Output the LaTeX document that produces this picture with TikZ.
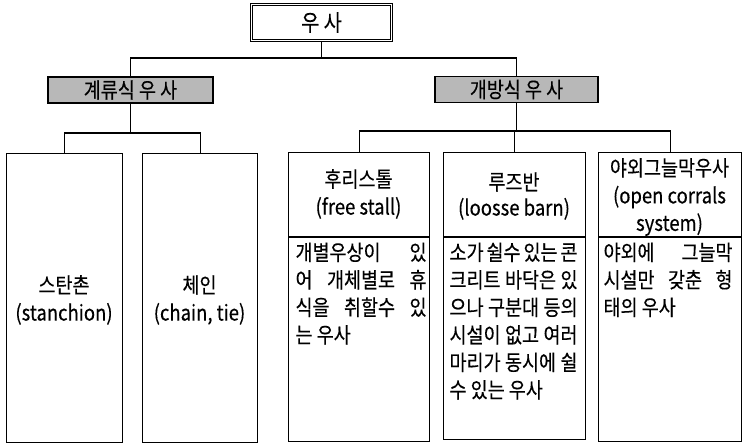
\documentclass[tikz,border=0pt]{standalone}
\usepackage{fontspec}
\setmainfont{Noto Sans CJK KR}[FakeStretch=0.86, FakeBold=0.3]
\begin{document}
\begin{tikzpicture}[x=1pt,y=-1pt,
  line width=1.1pt,
  box/.style={draw=black, rectangle, inner sep=0pt, anchor=north west},
  gbox/.style={draw=black, fill=black!28, rectangle, inner sep=0pt, font=\fontsize{21.5}{22}\selectfont},
  hdr/.style={align=center, inner sep=0pt, font=\fontsize{21.5}{27.5}\selectfont},
  body/.style={align=left, inner sep=0pt, anchor=north west, font=\fontsize{21.5}{27.5}\selectfont},
  conn/.style={draw=black, line width=1.1pt}
]
\useasboundingbox (0,0) rectangle (743,444);
% top
\node[draw=black, line width=1pt, minimum width=142pt, minimum height=38pt, inner sep=0pt, font=\fontsize{23}{24}\selectfont] (top) at (321.5,22.5) {우 사};
\draw[line width=0.8pt] ([shift={(2.8,2.8)}]top.north west) rectangle ([shift={(-2.8,-2.8)}]top.south east);
% level 2
\node[gbox, minimum width=165pt, minimum height=26pt] (g1) at (130.5,90) {계류식 우 사};
\node[gbox, minimum width=163pt, minimum height=26pt] (g2) at (516.5,89.5) {개방식 우 사};
% leaf boxes
\node[box, minimum width=116pt, minimum height=289pt] (b1) at (6,153) {};
\node[box, minimum width=115pt, minimum height=289pt] (b2) at (142,153) {};
\node[box, minimum width=141pt, minimum height=289pt] (b3) at (288,152) {};
\node[box, minimum width=142pt, minimum height=287pt] (b4) at (443,152) {};
\node[box, minimum width=143pt, minimum height=289pt] (b5) at (598,152) {};
% dividers
\coordinate (dv) at (0,237);
\draw (b3.west |- dv) -- (b3.east |- dv);
\draw (b4.west |- dv) -- (b4.east |- dv);
\draw (b5.west |- dv) -- (b5.east |- dv);
% connectors
\coordinate (bus1) at (0,58);
\coordinate (bus2) at (0,133);
\coordinate (bus3) at (0,131);
\draw[conn] (top.south) -- (top.south |- bus1);
\draw[conn] (g1.north) -- (g1.north |- bus1) -- (g2.north |- bus1) -- (g2.north);
\draw[conn] (g1.south) -- (g1.south |- bus2);
\draw[conn] (b1.north) -- (b1.north |- bus2) -- (b2.north |- bus2) -- (b2.north);
\draw[conn] (g2.south) -- (g2.south |- bus3);
\draw[conn] (b3.north) -- (b3.north |- bus3) -- (b5.north |- bus3) -- (b5.north);
\draw[conn] (b4.north |- bus3) -- (b4.north);
% left texts
\node[hdr] (t1) at (64,300) {스탄촌\\(stanchion)};
\node[hdr] (t2) at (199.5,300) {체인\\(chain, tie)};
% headers
\node[hdr] (h3) at (358.5,194) {후리스톨\\(free stall)};
\node[hdr, font=\fontsize{21.5}{25.5}\selectfont] (h4) at (514,196) {루즈반\\(loosse barn)};
\node[hdr] (h5) at (669.5,197) {야외그늘막우사\\(open corrals\\system)};
% bodies
\node[body] (d3) at (295,242) {\makebox[131pt][s]{개별우상이 있}\\\makebox[131pt][s]{어 개체별로 휴}\\\makebox[131pt][s]{식을 취할수 있}\\는 우사};
\node[body] (d4) at (449,242) {\makebox[128pt][s]{소가 쉴수 있는 콘}\\\makebox[128pt][s]{크리트 바닥은 있}\\\makebox[128pt][s]{으나 구분대 등의}\\\makebox[128pt][s]{시설이 없고 여러}\\\makebox[128pt][s]{마리가 동시에 쉴}\\수 있는 우사};
\node[body] (d5) at (603,242) {\makebox[129pt][s]{야외에 그늘막}\\\makebox[129pt][s]{시설만 갖춘 형}\\태의 우사};
\end{tikzpicture}
\end{document}
